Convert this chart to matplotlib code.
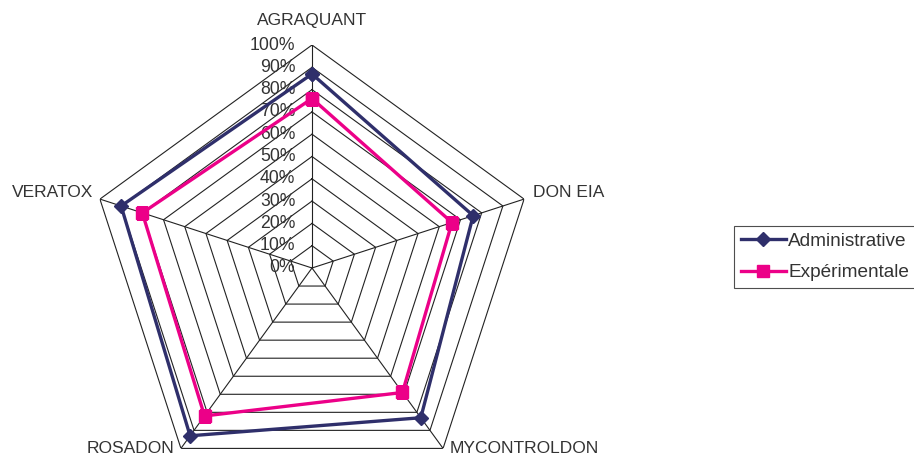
import numpy as np
import matplotlib
matplotlib.use("Agg")
import matplotlib.pyplot as plt

categories = ["AGRAQUANT", "DON EIA", "MYCONTROLDON", "ROSADON", "VERATOX"]
administrative = [0.87, 0.76, 0.83, 0.93, 0.90]
experimentale = [0.76, 0.66, 0.69, 0.82, 0.80]
levels = [0.0, 0.1, 0.2, 0.3, 0.4, 0.5, 0.6, 0.7, 0.8, 0.9, 1.0]
level_labels = ["0%", "10%", "20%", "30%", "40%", "50%", "60%", "70%", "80%", "90%", "100%"]

plt.rcParams['font.family'] = ['Liberation Sans', 'DejaVu Sans']
W, H = 914, 455
fig = plt.figure(figsize=(W / 100, H / 100), dpi=100)

cx, cy, R = 312, 268, 223
ax = fig.add_axes([(cx - R) / W, (H - cy - R) / H, 2 * R / W, 2 * R / H], projection='polar')
ax.set_theta_offset(np.pi / 2)
ax.set_theta_direction(-1)
ax.set_ylim(0, 1)
ax.grid(False)
ax.spines['polar'].set_visible(False)
ax.set_xticks([])
ax.set_yticks([])
ax.patch.set_alpha(0)

n = len(categories)
angles = np.linspace(0, 2 * np.pi, n, endpoint=False)
closed = np.concatenate([angles, angles[:1]])

gc = '#222222'
for lv in levels[1:]:
    ax.plot(closed, [lv] * (n + 1), color=gc, lw=0.8, zorder=1)
for a in angles:
    ax.plot([a, a], [0, 1], color=gc, lw=0.8, zorder=1)

navy = '#2F2F6B'
pink = '#EC0088'
ax.plot(closed, administrative + administrative[:1], color=navy, lw=2.4, marker='D',
        markersize=7, zorder=3, label='Administrative')
ax.plot(closed, experimentale + experimentale[:1], color=pink, lw=2.4, marker='s',
        markersize=9, zorder=4, label='Expérimentale')

tc = '#333333'
for lv, lab in zip(levels, level_labels):
    ax.annotate(lab, xy=(0, lv), xytext=(-12, 0), textcoords='offset points',
                ha='right', va='center', fontsize=12.7, color=tc, zorder=2)

offsets = [((0, 18), 'center', 'center'),
           ((6.5, 4.5), 'left', 'center'),
           ((5, 0), 'left', 'center'),
           ((-4.5, 0), 'right', 'center'),
           ((-5, 4.5), 'right', 'center')]
for a, cat, (off, ha, va) in zip(angles, categories, offsets):
    ax.annotate(cat, xy=(a, 1), xytext=off, textcoords='offset points',
                ha=ha, va=va, fontsize=12.5, color=tc, annotation_clip=False)

leg = fig.legend(loc='center left', bbox_to_anchor=(734 / W, 1 - 257 / H), frameon=True,
                 fontsize=13.7, handlelength=2.4, handletextpad=0.1, borderpad=0.35,
                 labelspacing=0.75, fancybox=False, borderaxespad=0)
leg.get_frame().set_edgecolor('#222222')
leg.get_frame().set_linewidth(0.8)
for t in leg.get_texts():
    t.set_color(tc)

fig.savefig('out.png', dpi=100)
